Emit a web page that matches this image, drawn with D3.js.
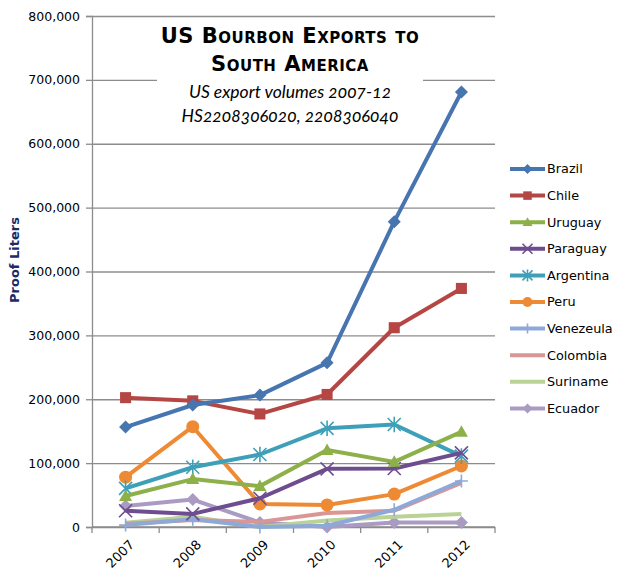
<!DOCTYPE html>
<html>
<head>
<meta charset="utf-8">
<script src="https://cdn.jsdelivr.net/npm/d3@7"></script>
<style>
  body { margin: 0; background: #fff; }
  svg { display: block; }
</style>
</head>
<body>
<svg id="chart" width="635" height="582"></svg>
<script>
// Data
const years = ["2007", "2008", "2009", "2010", "2011", "2012"];
const countries = ["Brazil", "Chile", "Uruguay", "Paraguay", "Argentina", "Peru", "Venezeula", "Colombia", "Suriname", "Ecuador"];
const brazil    = [156500, 191000, 206500, 257000, 478000, 681000];
const chile     = [202500, 197500, 177000, 207500, 312000, 373500];
const uruguay   = [48500, 75000, 64000, 120500, 102000, 149000];
const paraguay  = [25500, 20500, 45000, 91000, 91500, 116000];
const argentina = [60500, 93500, 113500, 154500, 160500, 111000];
const peru      = [78000, 157000, 36000, 34500, 51500, 95500];
const venezuela = [3000, 12000, 0, 2000, 27000, 72000];
const colombia  = [5000, 11000, 8000, 22000, 25500, 69000];
const suriname  = [6500, 16000, 0, 10000, 16000, 20500];
const ecuador   = [33000, 43000, 7000, 0, 7000, 7000];
const yTicks = [0, 100000, 200000, 300000, 400000, 500000, 600000, 700000, 800000];

const seriesValues = [brazil, chile, uruguay, paraguay, argentina, peru, venezuela, colombia, suriname, ecuador];
const colors = ["#4675b0", "#b64643", "#8db04a", "#6e4d8f", "#3ea0b8", "#ee8a34", "#8ea9d8", "#d99694", "#b9d396", "#a99bc4"];
const markers = ["diamond", "square", "triangle", "x", "star", "circle", "plus", "none", "none", "diamond"];

const svg = d3.select("#chart");
const margin = {top: 16, right: 140, bottom: 55, left: 92};

const x = d3.scaleBand().domain(years).range([margin.left, 495]).padding(0);
const y = d3.scaleLinear().domain([0, 800000]).range([527, 16]);
const cx = d => x(d) + x.bandwidth() / 2;

// gridlines
svg.append("g")
  .attr("transform", `translate(${margin.left},0)`)
  .call(d3.axisLeft(y).tickValues(yTicks).tickSize(-(495 - margin.left)).tickFormat(""))
  .call(g => g.select(".domain").remove())
  .call(g => g.selectAll("line").attr("stroke", "#8c8c8c").attr("stroke-width", 1.3));

// title block (white background hides part of the gridline)
svg.append("rect")
  .attr("x", 157).attr("y", 22).attr("width", 266).attr("height", 108)
  .attr("fill", "#fff");

const title = svg.append("g").attr("text-anchor", "middle");
title.append("text").attr("x", 290).attr("y", 43)
  .style("font-family", "'DejaVu Sans'").style("font-weight", "bold")
  .style("font-variant", "small-caps").style("font-size", "21px")
  .style("letter-spacing", "0.5px")
  .text("US Bourbon Exports to");
title.append("text").attr("x", 290).attr("y", 71)
  .style("font-family", "'DejaVu Sans'").style("font-weight", "bold")
  .style("font-variant", "small-caps").style("font-size", "21px")
  .style("letter-spacing", "0.5px")
  .text("South America");
title.append("text").attr("x", 290).attr("y", 98)
  .style("font-family", "Lato").style("font-style", "italic").style("font-size", "17.5px")
  .style("font-feature-settings", "'onum'")
  .text("US export volumes  2007-12");
title.append("text").attr("x", 290).attr("y", 122)
  .style("font-family", "Lato").style("font-style", "italic").style("font-size", "17.5px")
  .style("font-feature-settings", "'onum'")
  .text("HS2208306020, 2208306040");

// y axis
svg.append("g")
  .attr("transform", `translate(${margin.left},0)`)
  .call(d3.axisLeft(y).tickValues(yTicks).tickSize(6).tickPadding(6).tickFormat(d3.format(",")))
  .call(g => g.select(".domain").attr("stroke", "#8c8c8c").attr("stroke-width", 1.3))
  .call(g => g.selectAll("line").attr("stroke", "#8c8c8c").attr("stroke-width", 1.3))
  .call(g => g.selectAll("text").attr("fill", "#000")
    .style("font-family", "'DejaVu Sans'").style("font-size", "12.5px"));

// x axis: baseline, boundary ticks, rotated labels
const xg = svg.append("g");
xg.append("line").attr("x1", margin.left).attr("x2", 495).attr("y1", y(0)).attr("y2", y(0))
  .attr("stroke", "#8c8c8c").attr("stroke-width", 1.3);
const bounds = years.map(d => x(d)).concat([x(years[years.length - 1]) + x.bandwidth()]);
xg.selectAll(".xtick").data(bounds).enter().append("line")
  .attr("x1", d => d).attr("x2", d => d).attr("y1", y(0)).attr("y2", y(0) + 6)
  .attr("stroke", "#8c8c8c").attr("stroke-width", 1.3);
xg.selectAll(".xlab").data(years).enter().append("text")
  .attr("transform", d => `translate(${cx(d) + 3},${y(0) + 12}) rotate(-45)`)
  .attr("text-anchor", "end").attr("dy", "0.7em")
  .style("font-family", "'DejaVu Sans'").style("font-size", "13px")
  .text(d => d);

// y axis title
svg.append("text")
  .attr("transform", `translate(19,260) rotate(-90)`)
  .attr("text-anchor", "middle")
  .attr("fill", "#1c2a66")
  .style("font-family", "'DejaVu Sans'").style("font-weight", "bold").style("font-size", "13px")
  .text("Proof Liters");

// marker drawing
function drawMarker(g, type, color, s) {
  if (type === "diamond") {
    g.append("path").attr("d", `M0,${-s}L${s},0L0,${s}L${-s},0Z`).attr("fill", color);
  } else if (type === "square") {
    g.append("rect").attr("x", -s * 0.85).attr("y", -s * 0.85).attr("width", s * 1.7).attr("height", s * 1.7).attr("fill", color);
  } else if (type === "triangle") {
    g.append("path").attr("d", `M0,${-s}L${s},${s * 0.75}L${-s},${s * 0.75}Z`).attr("fill", color);
  } else if (type === "circle") {
    g.append("circle").attr("r", s).attr("fill", color);
  } else if (type === "x") {
    g.append("path").attr("d", `M${-s},${-s}L${s},${s}M${-s},${s}L${s},${-s}`)
      .attr("stroke", color).attr("stroke-width", 1.6);
  } else if (type === "star") {
    g.append("path").attr("d", `M${-s},${-s}L${s},${s}M${-s},${s}L${s},${-s}M0,${-s * 1.2}L0,${s * 1.2}`)
      .attr("stroke", color).attr("stroke-width", 1.6);
  } else if (type === "plus") {
    g.append("path").attr("d", `M0,${-s}L0,${s}M${-s},0L${s},0`)
      .attr("stroke", color).attr("stroke-width", 1.6);
  }
}

const line = d3.line().x((d, i) => cx(years[i])).y(d => y(d));

// draw series in reverse order so Brazil ends on top
const order = d3.range(countries.length).reverse();
order.forEach(k => {
  const vals = seriesValues[k];
  svg.append("path").datum(vals)
    .attr("d", line)
    .attr("fill", "none")
    .attr("stroke", colors[k])
    .attr("stroke-width", 4)
    .attr("stroke-linejoin", "round");
  vals.forEach((v, i) => {
    const g = svg.append("g").attr("transform", `translate(${cx(years[i])},${y(v)})`);
    drawMarker(g, markers[k], colors[k], 6.5);
  });
});

// legend
const legend = svg.append("g");
countries.forEach((c, k) => {
  const ly = 169 + k * 26.6;
  legend.append("line").attr("x1", 510).attr("x2", 545).attr("y1", ly).attr("y2", ly)
    .attr("stroke", colors[k]).attr("stroke-width", 4);
  const g = legend.append("g").attr("transform", `translate(527.5,${ly})`);
  drawMarker(g, markers[k], colors[k], 5);
  legend.append("text").attr("x", 547).attr("y", ly).attr("dy", "0.35em")
    .style("font-family", "'DejaVu Sans'").style("font-size", "12.8px")
    .text(c);
});
</script>
</body>
</html>
